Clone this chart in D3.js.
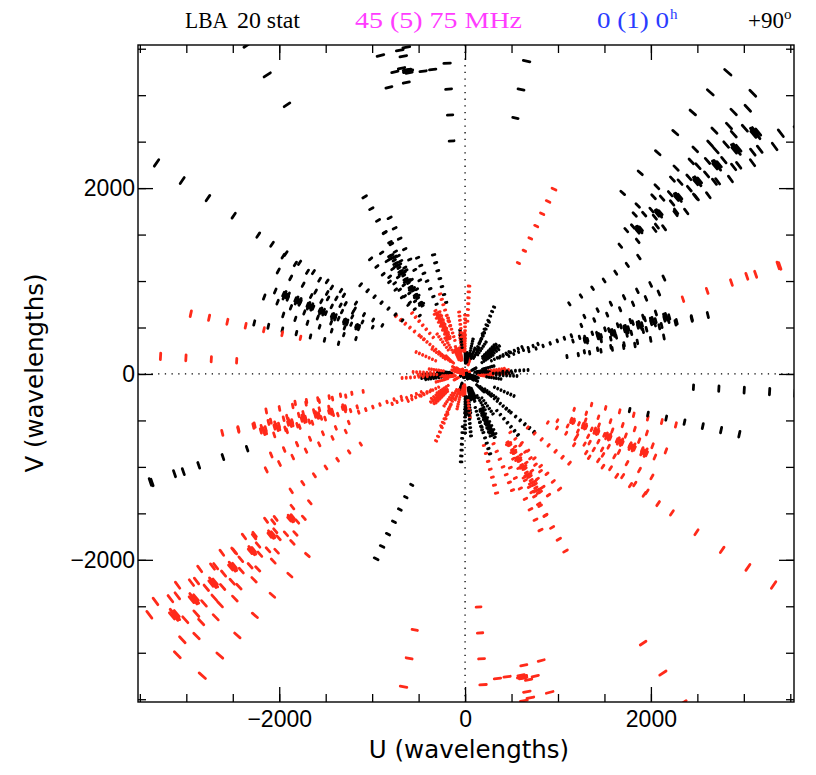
<!DOCTYPE html>
<html>
<head>
<meta charset="utf-8">
<script src="https://cdn.jsdelivr.net/npm/d3@7"></script>
<style>
body { margin: 0; background: #fff; }
svg { display: block; }
</style>
</head>
<body>
<script>
// frequencies of the channels (MHz), scaled from the 75 MHz positions
var freqs = [45, 50, 55, 60, 65, 70, 75];
var refFreq = 75;

// station positions in wavelengths at 75 MHz (read off the arms)
// order matters: baseline j - i (i < j) is drawn black, its conjugate red
var stationU = [0, 26, -18, -26, 10, 30,                 // superterp
                -441, -269, 86, 32, 32, 118, 237, 344, 301,  // core
                3129, -1925, -780, 2172, -1022];         // remotes
var stationV = [0, 12, 26, -12, -28, -20,
                -32, 0, -269, 204, -430, -54, 11, 290, -656,
                2591, 839, 1250, 602, 5430];

var tickLabels = [-2000, 0, 2000];
var minorTicks = d3.range(-3500, 3501, 500);

var red = "#ff2a1a";

var W = 816, H = 775;
var pL = 138, pR = 794, pT = 45, pB = 702;

var svg = d3.select("body").append("svg")
    .attr("width", W)
    .attr("height", H)
    .style("font-family", "'DejaVu Sans', sans-serif");

var x = d3.scaleLinear().domain([-3520, 3540]).range([pL, pR]);
var y = d3.scaleLinear().domain([-3530, 3540]).range([pB, pT]);

svg.append("clipPath").attr("id", "clip")
  .append("rect")
    .attr("x", pL).attr("y", pT)
    .attr("width", pR - pL).attr("height", pB - pT);

var plot = svg.append("g").attr("clip-path", "url(#clip)");

// dotted zero lines
plot.append("line")
    .attr("x1", x(0)).attr("x2", x(0))
    .attr("y1", pT).attr("y2", pB)
    .attr("stroke", "#000").attr("stroke-width", 1.3)
    .attr("stroke-dasharray", "1.3,5.4");
plot.append("line")
    .attr("x1", pL).attr("x2", pR)
    .attr("y1", y(0)).attr("y2", y(0))
    .attr("stroke", "#000").attr("stroke-width", 1.3)
    .attr("stroke-dasharray", "1.3,5.4");

// baselines -> uv points, one per channel, plus conjugate
var marks = [];
for (var i = 0; i < stationU.length; i++) {
  for (var j = i + 1; j < stationU.length; j++) {
    var bu = stationU[j] - stationU[i], bv = stationV[j] - stationV[i];
    freqs.forEach(function(f) {
      var s = f / refFreq;
      marks.push({u: bu * s, v: bv * s, c: "#000"});
      marks.push({u: -bu * s, v: -bv * s, c: red});
    });
  }
}

// each point is a short arc of its (circular) uv track
var dt = 0.0105;
function rot(d, a) {
  return [d.u * Math.cos(a) - d.v * Math.sin(a), d.u * Math.sin(a) + d.v * Math.cos(a)];
}

plot.selectAll(".uv")
    .data(marks)
  .enter().append("line")
    .attr("class", "uv")
    .attr("x1", function(d) { return x(rot(d, -dt)[0]); })
    .attr("y1", function(d) { return y(rot(d, -dt)[1]); })
    .attr("x2", function(d) { return x(rot(d, dt)[0]); })
    .attr("y2", function(d) { return y(rot(d, dt)[1]); })
    .attr("stroke", function(d) { return d.c; })
    .attr("stroke-width", 2.8)
    .attr("stroke-linecap", "round");

// axes, ticks pointing inwards on all four sides
function styleAxis(g) {
  g.select(".domain").remove();
  g.selectAll(".tick line").attr("stroke", "#000").attr("stroke-width", 1.3);
  g.selectAll("text").attr("fill", "#000").style("font-size", "23px");
}

var axes = [
  [d3.axisBottom, "translate(0," + pB + ")", x, true, 9],
  [d3.axisTop, "translate(0," + pT + ")", x, false, 9],
  [d3.axisLeft, "translate(" + pL + ",0)", y, true, 3],
  [d3.axisRight, "translate(" + pR + ",0)", y, false, 3]
];
axes.forEach(function(a) {
  svg.append("g").attr("transform", a[1])
      .call(a[0](a[2]).tickValues(minorTicks).tickSize(-8).tickFormat(""))
      .call(styleAxis);
  var major = a[0](a[2]).tickValues(tickLabels).tickSize(-15).tickPadding(a[4])
      .tickFormat(a[3] ? d3.format("d") : "");
  svg.append("g").attr("transform", a[1])
      .call(major)
      .call(styleAxis);
});

svg.append("rect")
    .attr("x", pL).attr("y", pT)
    .attr("width", pR - pL).attr("height", pB - pT)
    .attr("fill", "none").attr("stroke", "#000").attr("stroke-width", 1.4);

// axis titles
svg.append("text")
    .attr("x", 469).attr("y", 758)
    .attr("text-anchor", "middle")
    .style("font-size", "24.5px")
    .text("U (wavelengths)");
svg.append("text")
    .attr("transform", "translate(43,373) rotate(-90)")
    .attr("text-anchor", "middle")
    .style("font-size", "24.5px")
    .text("V (wavelengths)");

// header line
var header = [
  {t: "LBA", x: 185, w: 43, c: "#000"},
  {t: "20 stat", x: 237, w: 63, c: "#000"},
  {t: "45 (5) 75 MHz", x: 355, w: 167, c: "#ff3cff"},
  {t: "0 (1) 0", x: 597, w: 72, c: "#2a3cff"},
  {t: "+90", x: 748, w: 36, c: "#000"}
];
svg.selectAll(".hdr")
    .data(header)
  .enter().append("text")
    .attr("class", "hdr")
    .attr("x", function(d) { return d.x; })
    .attr("y", 28)
    .attr("textLength", function(d) { return d.w; })
    .attr("lengthAdjust", "spacingAndGlyphs")
    .attr("fill", function(d) { return d.c; })
    .style("font-family", "'Liberation Serif', serif")
    .style("font-size", "23px")
    .text(function(d) { return d.t; });
svg.append("text").attr("x", 670).attr("y", 19).attr("fill", "#2a3cff")
    .style("font-family", "'Liberation Serif', serif").style("font-size", "15px").text("h");
svg.append("text").attr("x", 784).attr("y", 19).attr("fill", "#000")
    .style("font-family", "'Liberation Serif', serif").style("font-size", "15px").text("o");
</script>
</body>
</html>
